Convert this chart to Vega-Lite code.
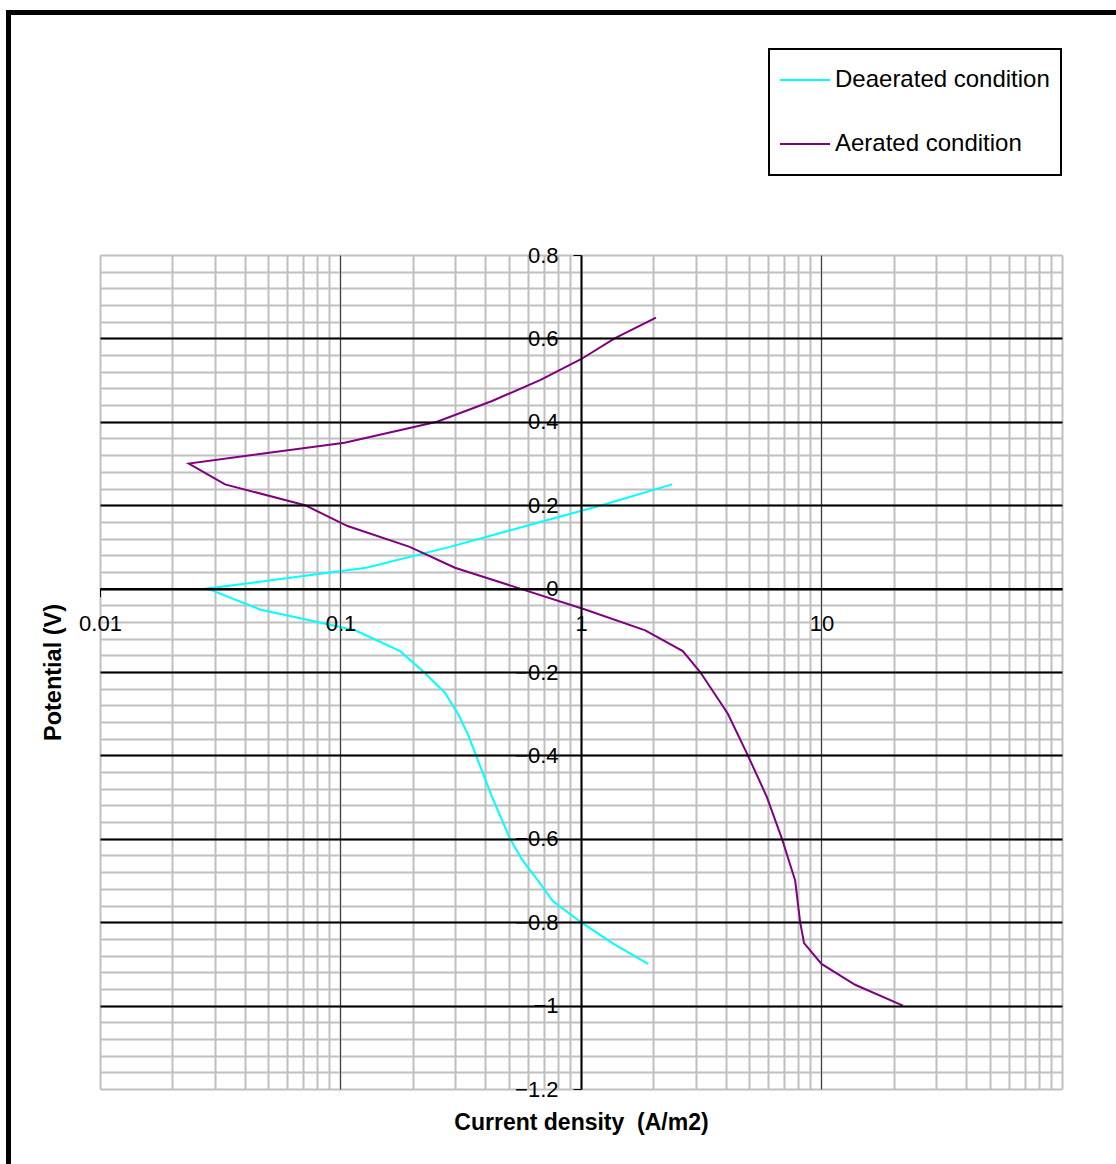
{
  "$schema": "https://vega.github.io/schema/vega-lite/v6.json",
  "width": 962,
  "height": 834,
  "autosize": {"type": "none"},
  "padding": {"left": 100, "top": 255, "right": 54, "bottom": 75},
  "background": "white",
  "config": {
    "view": {"stroke": null},
    "font": "Liberation Sans",
    "axis": {"labelFont": "Liberation Sans", "titleFont": "Liberation Sans", "labelColor": "black", "titleColor": "black"},
    "legend": {"labelFont": "Liberation Sans", "titleFont": "Liberation Sans", "strokeWidth": 2}
  },
  "data": {
    "values": [
      {"series": "Deaerated condition", "potential": -0.9, "current": 1.9},
      {"series": "Deaerated condition", "potential": -0.85, "current": 1.35},
      {"series": "Deaerated condition", "potential": -0.8, "current": 1.0},
      {"series": "Deaerated condition", "potential": -0.75, "current": 0.765},
      {"series": "Deaerated condition", "potential": -0.7, "current": 0.662},
      {"series": "Deaerated condition", "potential": -0.65, "current": 0.569},
      {"series": "Deaerated condition", "potential": -0.6, "current": 0.507},
      {"series": "Deaerated condition", "potential": -0.5, "current": 0.427},
      {"series": "Deaerated condition", "potential": -0.4, "current": 0.366},
      {"series": "Deaerated condition", "potential": -0.35, "current": 0.339},
      {"series": "Deaerated condition", "potential": -0.3, "current": 0.308},
      {"series": "Deaerated condition", "potential": -0.25, "current": 0.272},
      {"series": "Deaerated condition", "potential": -0.2, "current": 0.222},
      {"series": "Deaerated condition", "potential": -0.15, "current": 0.177},
      {"series": "Deaerated condition", "potential": -0.1, "current": 0.115},
      {"series": "Deaerated condition", "potential": -0.05, "current": 0.0463},
      {"series": "Deaerated condition", "potential": 0, "current": 0.028},
      {"series": "Deaerated condition", "potential": 0.05, "current": 0.128},
      {"series": "Deaerated condition", "potential": 0.1, "current": 0.285},
      {"series": "Deaerated condition", "potential": 0.15, "current": 0.59},
      {"series": "Deaerated condition", "potential": 0.2, "current": 1.22},
      {"series": "Deaerated condition", "potential": 0.25, "current": 2.39},
      {"series": "Aerated condition", "potential": -1.0, "current": 21.8},
      {"series": "Aerated condition", "potential": -0.95, "current": 13.8},
      {"series": "Aerated condition", "potential": -0.9, "current": 10.0},
      {"series": "Aerated condition", "potential": -0.85, "current": 8.46},
      {"series": "Aerated condition", "potential": -0.8, "current": 8.15},
      {"series": "Aerated condition", "potential": -0.7, "current": 7.77},
      {"series": "Aerated condition", "potential": -0.6, "current": 6.85},
      {"series": "Aerated condition", "potential": -0.5, "current": 5.93},
      {"series": "Aerated condition", "potential": -0.4, "current": 4.94},
      {"series": "Aerated condition", "potential": -0.3, "current": 4.08},
      {"series": "Aerated condition", "potential": -0.2, "current": 3.13},
      {"series": "Aerated condition", "potential": -0.15, "current": 2.65},
      {"series": "Aerated condition", "potential": -0.1, "current": 1.85},
      {"series": "Aerated condition", "potential": -0.05, "current": 1.04},
      {"series": "Aerated condition", "potential": 0, "current": 0.558},
      {"series": "Aerated condition", "potential": 0.05, "current": 0.299},
      {"series": "Aerated condition", "potential": 0.1, "current": 0.194},
      {"series": "Aerated condition", "potential": 0.15, "current": 0.107},
      {"series": "Aerated condition", "potential": 0.2, "current": 0.0712},
      {"series": "Aerated condition", "potential": 0.25, "current": 0.0331},
      {"series": "Aerated condition", "potential": 0.3, "current": 0.0234},
      {"series": "Aerated condition", "potential": 0.35, "current": 0.104},
      {"series": "Aerated condition", "potential": 0.4, "current": 0.252},
      {"series": "Aerated condition", "potential": 0.45, "current": 0.427},
      {"series": "Aerated condition", "potential": 0.5, "current": 0.676},
      {"series": "Aerated condition", "potential": 0.55, "current": 1.0},
      {"series": "Aerated condition", "potential": 0.6, "current": 1.38},
      {"series": "Aerated condition", "potential": 0.65, "current": 2.05}
    ]
  },
  "layer": [
    {
      "mark": {"type": "line", "strokeWidth": 2},
      "encoding": {
        "x": {
          "field": "current", "type": "quantitative",
          "scale": {"type": "log", "domain": [0.01, 100], "nice": false},
          "axis": {
            "orient": "top", "title": null, "labels": false, "ticks": false, "domain": false,
            "grid": true, "gridColor": "#c0c0c0", "gridWidth": 2, "zindex": 0,
            "values": [0.01, 0.02, 0.03, 0.04, 0.05, 0.06, 0.07, 0.08, 0.09, 0.1, 0.2, 0.3, 0.4, 0.5, 0.6, 0.7, 0.8, 0.9, 1, 2, 3, 4, 5, 6, 7, 8, 9, 10, 20, 30, 40, 50, 60, 70, 80, 90, 100]
          }
        },
        "y": {
          "field": "potential", "type": "quantitative",
          "scale": {"domain": [-1.2, 0.8], "nice": false, "zero": false},
          "axis": {
            "orient": "right", "title": null, "labels": false, "ticks": false, "domain": false,
            "grid": true, "gridColor": "#c0c0c0", "gridWidth": 2, "zindex": 0,
            "values": [-1.2, -1.16, -1.12, -1.08, -1.04, -1, -0.96, -0.92, -0.88, -0.84, -0.8, -0.76, -0.72, -0.68, -0.64, -0.6, -0.56, -0.52, -0.48, -0.44, -0.4, -0.36, -0.32, -0.28, -0.24, -0.2, -0.16, -0.12, -0.08, -0.04, 0, 0.04, 0.08, 0.12, 0.16, 0.2, 0.24, 0.28, 0.32, 0.36, 0.4, 0.44, 0.48, 0.52, 0.56, 0.6, 0.64, 0.68, 0.72, 0.76, 0.8]
          }
        },
        "color": {
          "field": "series", "type": "nominal",
          "scale": {"domain": ["Deaerated condition", "Aerated condition"], "range": ["#00ffff", "#800080"]},
          "legend": {
            "orient": "none", "legendX": 669, "legendY": -206, "title": null,
            "strokeColor": "black", "fillColor": "white", "padding": 11,
            "symbolType": "stroke", "symbolSize": 2601, "symbolStrokeWidth": 2, "symbolOffset": -2, "clipHeight": 40,
            "labelFontSize": 24, "labelColor": "black", "labelOffset": 4, "rowPadding": 24, "labelLimit": 400
          }
        },
        "order": {"field": "potential", "type": "quantitative"}
      }
    },
    {
      "transform": [{"filter": "false"}],
      "mark": {"type": "point", "color": "black", "filled": false, "opacity": 1, "strokeWidth": 5},
      "encoding": {
        "x": {
          "field": "current", "type": "quantitative",
          "scale": {"type": "log", "domain": [0.01, 100], "nice": false},
          "axis": {
            "orient": "bottom", "offset": -500.4, "title": null, "grid": false,
            "values": [0.01, 0.1, 1, 10], "format": "~g",
            "labelFontSize": 22, "labelPadding": 17, "labelFlush": false, "labelOverlap": false, "labelBound": false,
            "tickSize": 8, "tickColor": "black", "tickWidth": 1,
            "domainColor": "black", "domainWidth": 2, "zindex": 1
          }
        },
        "y": {
          "field": "potential", "type": "quantitative",
          "scale": {"domain": [-1.2, 0.8], "nice": false, "zero": false},
          "axis": {
            "orient": "left", "offset": -481, "title": null, "grid": false,
            "values": [-1.2, -1, -0.8, -0.6, -0.4, -0.2, 0, 0.2, 0.4, 0.6, 0.8], "format": "~g",
            "labelFontSize": 22, "labelPadding": 15, "labelFlush": false, "labelOverlap": false, "labelBound": false,
            "tickSize": 8, "tickColor": "black", "tickWidth": 1,
            "domainColor": "black", "domainWidth": 2, "zindex": 1
          }
        },
        "shape": {
          "datum": "frame", "type": "nominal",
          "scale": {"range": ["square"]},
          "legend": {
            "orient": "none", "legendX": -94, "legendY": -245, "title": null,
            "strokeColor": null, "padding": 0,
            "symbolType": "square", "symbolSize": 1690000, "symbolStrokeColor": "black", "symbolStrokeWidth": 5,
            "symbolFillColor": "transparent", "symbolOpacity": 1,
            "labelExpr": "''"
          }
        }
      }
    },
    {
      "mark": {"type": "point", "opacity": 0},
      "encoding": {
        "x": {
          "field": "current", "type": "quantitative",
          "scale": {"type": "log", "domain": [0.01, 100], "nice": false},
          "axis": {
            "orient": "bottom", "labels": false, "ticks": false, "domain": false,
            "grid": true, "gridColor": "#404040", "gridWidth": 1, "values": [0.1, 10], "zindex": 2,
            "title": "Current density\u00a0 (A/m2)", "titleX": 481, "titleY": 22,
            "titleFontSize": 23, "titleFontWeight": "bold"
          }
        },
        "y": {
          "field": "potential", "type": "quantitative",
          "scale": {"domain": [-1.2, 0.8], "nice": false, "zero": false},
          "axis": {
            "orient": "left", "labels": false, "ticks": false, "domain": false,
            "grid": true, "gridColor": "black", "gridWidth": 2,
            "values": [-1, -0.8, -0.6, -0.4, -0.2, 0, 0.2, 0.4, 0.6], "zindex": 2,
            "title": "Potential (V)", "titleX": -35, "titleY": 417,
            "titleFontSize": 23.5, "titleFontWeight": "bold"
          }
        }
      }
    }
  ]
}
